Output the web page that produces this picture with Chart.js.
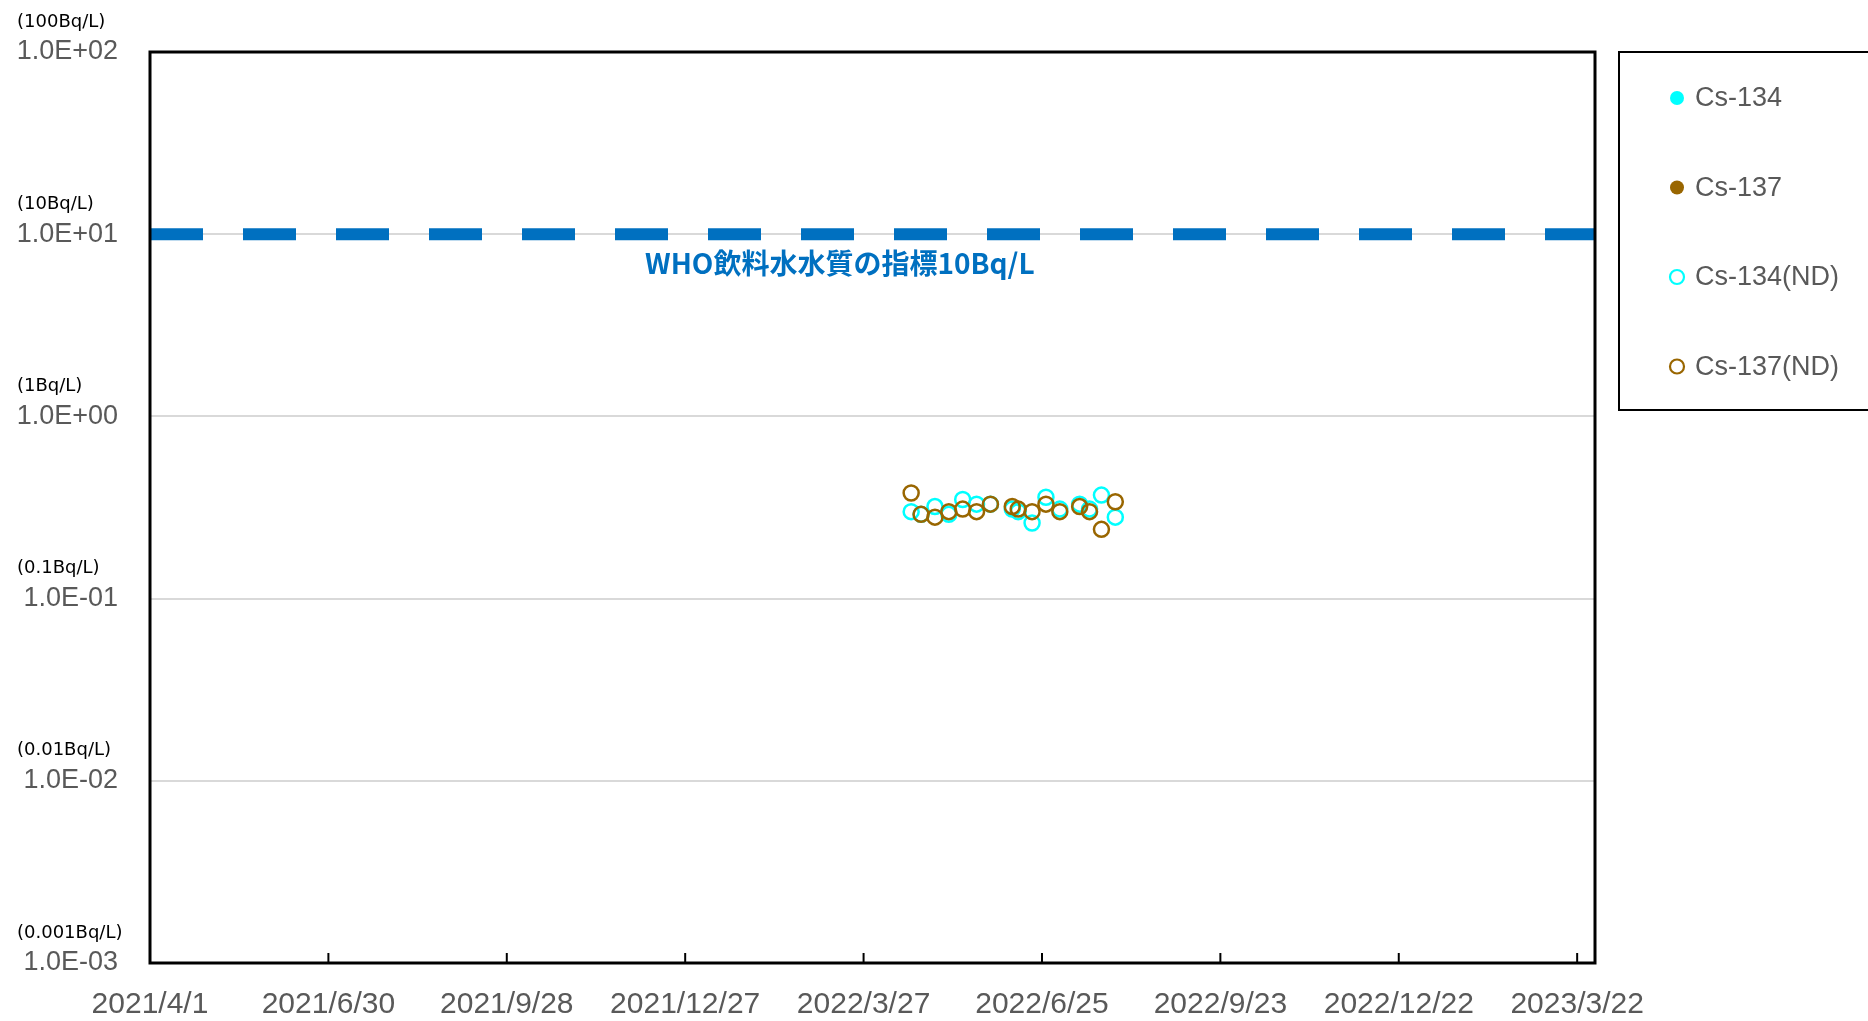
<!DOCTYPE html>
<html>
<head>
<meta charset="utf-8">
<script src="https://cdn.jsdelivr.net/npm/chart.js@4.4.1/dist/chart.umd.min.js"></script>
<style>
  html, body { margin: 0; padding: 0; background: #fff; }
  #wrap { width: 1868px; height: 1021px; }
</style>
</head>
<body>
<div id="wrap"><canvas id="waterChart"></canvas></div>
<script>
// sampling dates and measured values (all below detection limit -> ND)
const sampleDates = ['2022/4/20', '2022/4/25', '2022/5/2', '2022/5/9', '2022/5/16', '2022/5/23', '2022/5/30', '2022/6/10',
                     '2022/6/13', '2022/6/20', '2022/6/27', '2022/7/4', '2022/7/14', '2022/7/19', '2022/7/25', '2022/8/1'];
const cs134ND = [0.30, 0.29, 0.32, 0.29, 0.35, 0.33, 0.33, 0.31, 0.30, 0.26, 0.36, 0.31, 0.33, 0.31, 0.37, 0.28];
const cs137ND = [0.38, 0.29, 0.28, 0.30, 0.31, 0.30, 0.33, 0.32, 0.31, 0.30, 0.33, 0.30, 0.32, 0.30, 0.24, 0.34];
const cs134Detected = [];
const cs137Detected = [];

const xStartDate = '2021/4/1';
const xEndDate = '2023/3/31';
const xTickStepDays = 90;
const yTickValues = [0.001, 0.01, 0.1, 1, 10, 100];
const yUnitLabels = ['(0.001Bq/L)', '(0.01Bq/L)', '(0.1Bq/L)', '(1Bq/L)', '(10Bq/L)', '(100Bq/L)'];
const whoLimit = 10;
const whoLabel = 'WHO飲料水水質の指標10Bq/L';
const whoLabelDate = '2022/3/14';

const DAY_MS = 86400000;

function toUTC(str) {
    const p = str.split('/').map(Number);
    return Date.UTC(p[0], p[1] - 1, p[2]);
}

function toDays(str) {
    return Math.round((toUTC(str) - toUTC(xStartDate)) / DAY_MS);
}

function dayLabel(days) {
    const d = new Date(toUTC(xStartDate) + days * DAY_MS);
    return d.getUTCFullYear() + '/' + (d.getUTCMonth() + 1) + '/' + d.getUTCDate();
}

function sciLabel(v) {
    const exp = Math.round(Math.log10(v));
    const mant = (v / Math.pow(10, exp)).toFixed(1);
    const sign = exp < 0 ? '-' : '+';
    return mant + 'E' + sign + String(Math.abs(exp)).padStart(2, '0');
}

function toPoints(values) {
    return values.map((v, i) => ({ x: toDays(sampleDates[i]), y: v }));
}

const CYAN = '#00FFFF';
const BROWN = '#996600';
const GREY_TEXT = '#595959';

const chartDecorations = {
    id: 'chartDecorations',
    afterDatasetsDraw(chart) {
        const { ctx, chartArea: a } = chart;
        ctx.save();
        // plot frame
        ctx.strokeStyle = '#000';
        ctx.lineWidth = 3;
        ctx.strokeRect(a.left, a.top, a.right - a.left, a.bottom - a.top);
        // inner tick marks on the date axis
        const xs = chart.scales.x;
        ctx.lineWidth = 2;
        xs.ticks.forEach(t => {
            const px = xs.getPixelForValue(t.value);
            ctx.beginPath();
            ctx.moveTo(px, a.bottom);
            ctx.lineTo(px, a.bottom - 10);
            ctx.stroke();
        });
        ctx.restore();
    },
    afterDraw(chart) {
        const { ctx, chartArea: a } = chart;
        const xs = chart.scales.x;
        const ys = chart.scales.y;
        ctx.save();

        // unit captions above y tick labels
        ctx.fillStyle = '#000';
        ctx.font = '18px "DejaVu Sans"';
        ctx.textAlign = 'left';
        ctx.textBaseline = 'middle';
        yTickValues.forEach((v, i) => {
            ctx.fillText(yUnitLabels[i], 17, ys.getPixelForValue(v) - 30);
        });

        // WHO guideline caption
        ctx.fillStyle = '#0070C0';
        ctx.font = 'bold 28px "Noto Sans CJK JP"';
        ctx.textAlign = 'center';
        ctx.fillText(whoLabel, xs.getPixelForValue(toDays(whoLabelDate)) + 2, ys.getPixelForValue(whoLimit) + 29);

        // legend box
        const boxLeft = a.right + 24;
        ctx.strokeStyle = '#000';
        ctx.lineWidth = 2;
        ctx.strokeRect(boxLeft, a.top, 300, 358);
        const items = chart.data.datasets.filter(ds => ds.inLegend);
        ctx.font = '27px "Liberation Sans"';
        ctx.textAlign = 'left';
        items.forEach((ds, i) => {
            const cy = a.top + 46 + i * 89.5;
            const cx = boxLeft + 58;
            ctx.beginPath();
            ctx.arc(cx, cy, 7, 0, Math.PI * 2);
            if (ds.legendFilled) {
                ctx.fillStyle = ds.borderColor;
                ctx.fill();
            } else {
                ctx.lineWidth = 2.2;
                ctx.strokeStyle = ds.borderColor;
                ctx.stroke();
            }
            ctx.fillStyle = GREY_TEXT;
            ctx.fillText(ds.label, cx + 18, cy + 1);
        });
        ctx.restore();
    }
};

function createWaterChart() {
    const ctx = document.getElementById('waterChart');
    if (!ctx) return;

    new Chart(ctx, {
        type: 'scatter',
        data: {
            datasets: [
                {
                    label: 'Cs-134',
                    data: toPoints(cs134Detected),
                    backgroundColor: CYAN,
                    borderColor: CYAN,
                    pointRadius: 7,
                    inLegend: true,
                    legendFilled: true,
                    order: 1
                },
                {
                    label: 'Cs-137',
                    data: toPoints(cs137Detected),
                    backgroundColor: BROWN,
                    borderColor: BROWN,
                    pointRadius: 7,
                    inLegend: true,
                    legendFilled: true,
                    order: 1
                },
                {
                    label: 'Cs-134(ND)',
                    data: toPoints(cs134ND),
                    backgroundColor: 'rgba(0,0,0,0)',
                    borderColor: CYAN,
                    borderWidth: 2.5,
                    pointRadius: 7.5,
                    inLegend: true,
                    order: 3
                },
                {
                    label: 'Cs-137(ND)',
                    data: toPoints(cs137ND),
                    backgroundColor: 'rgba(0,0,0,0)',
                    borderColor: BROWN,
                    borderWidth: 2.5,
                    pointRadius: 7.5,
                    inLegend: true,
                    order: 2
                },
                {
                    type: 'line',
                    label: 'WHO',
                    data: [{ x: 0, y: whoLimit }, { x: toDays(xEndDate), y: whoLimit }],
                    borderColor: '#0070C0',
                    borderWidth: 12,
                    borderDash: [53, 40],
                    borderCapStyle: 'butt',
                    pointRadius: 0,
                    showLine: true,
                    fill: false,
                    order: 4
                }
            ]
        },
        options: {
            responsive: true,
            maintainAspectRatio: false,
            animation: false,
            layout: {
                padding: { top: 52, right: 273, left: 0, bottom: 0 }
            },
            scales: {
                x: {
                    type: 'linear',
                    min: 0,
                    max: toDays(xEndDate),
                    grid: { display: false, drawTicks: false },
                    border: { display: false },
                    ticks: {
                        stepSize: xTickStepDays,
                        includeBounds: false,
                        autoSkip: false,
                        maxRotation: 0,
                        padding: 24,
                        color: GREY_TEXT,
                        font: { family: "'Liberation Sans', sans-serif", size: 30 },
                        callback: value => dayLabel(value)
                    },
                    afterFit: scale => { scale.height = 58; }
                },
                y: {
                    type: 'logarithmic',
                    min: yTickValues[0],
                    max: yTickValues[yTickValues.length - 1],
                    afterBuildTicks: scale => {
                        scale.ticks = yTickValues.map(v => ({ value: v }));
                    },
                    grid: { color: '#D9D9D9', lineWidth: 2, drawTicks: false },
                    border: { display: false },
                    ticks: {
                        padding: 32,
                        color: GREY_TEXT,
                        font: { family: "'Liberation Sans', sans-serif", size: 27 },
                        callback: value => sciLabel(value)
                    },
                    afterFit: scale => { scale.width = 150; }
                }
            },
            plugins: {
                legend: { display: false },
                tooltip: { enabled: false }
            }
        },
        plugins: [chartDecorations]
    });
}

document.addEventListener('DOMContentLoaded', () => {
    createWaterChart();
});
</script>
</body>
</html>
